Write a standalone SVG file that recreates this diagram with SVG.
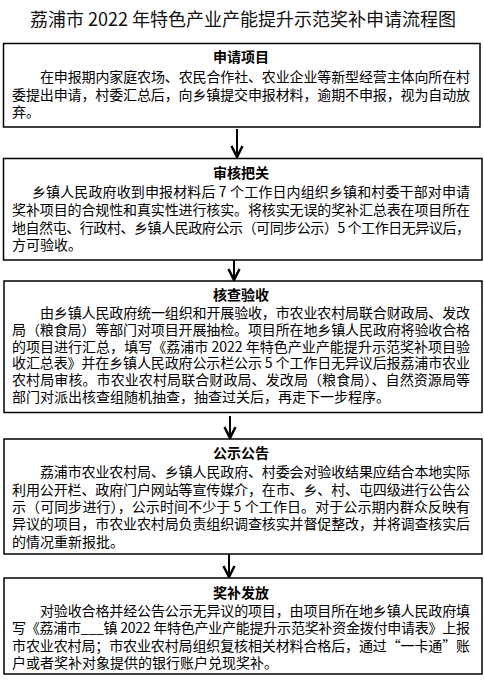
<svg xmlns="http://www.w3.org/2000/svg" width="484" height="681" viewBox="0 0 484 681">
<style>
.title{font-family:"Noto Sans CJK SC","Liberation Sans",sans-serif;font-size:18px;fill:#111;}
.box{fill:#fff;stroke:#000;stroke-width:1.5;}
.hd{font-family:"Noto Sans CJK SC","Liberation Sans",sans-serif;font-size:14px;font-weight:bold;text-anchor:middle;fill:#000;}
.tx{font-family:"Noto Sans CJK SC","Liberation Sans",sans-serif;font-size:14px;fill:#000;}
.conn{stroke:#000;stroke-width:2;fill:none;}
</style>
<defs>
<marker id="ah" markerUnits="userSpaceOnUse" markerWidth="14" markerHeight="14" refX="12" refY="7" orient="auto">
<path d="M1,1.5 L12,7 L1,12.5" fill="none" stroke="#000" stroke-width="2.5"/>
</marker>
</defs>
<rect width="484" height="681" fill="#fff"/>
<text class="title" x="243" y="26" text-anchor="middle">荔浦市 2022 年特色产业产能提升示范奖补申请流程图</text>

<g id="conns">
<line class="conn" x1="237" y1="129" x2="237" y2="157" marker-end="url(#ah)"/>
<line class="conn" x1="234" y1="252" x2="234" y2="280" marker-end="url(#ah)"/>
<line class="conn" x1="230" y1="416" x2="230" y2="438" marker-end="url(#ah)"/>
<line class="conn" x1="229" y1="553" x2="229" y2="577" marker-end="url(#ah)"/>
</g>

<g id="n1">
<rect class="box" x="3.5" y="43.5" width="476.5" height="83.5"/>
<text class="hd" x="241" y="62">申请项目</text>
<text class="tx" x="40" y="82" textLength="430" lengthAdjust="spacing">在申报期内家庭农场、农民合作社、农业企业等新型经营主体向所在村</text>
<text class="tx" x="12" y="100" textLength="458" lengthAdjust="spacing">委提出申请，村委汇总后，向乡镇提交申报材料，逾期不申报，视为自动放</text>
<text class="tx" x="12" y="117">弃。</text>
</g>

<g id="n2">
<rect class="box" x="3.5" y="158.5" width="478.5" height="101.5"/>
<text class="hd" x="241" y="178">审核把关</text>
<text class="tx" x="32" y="197" textLength="438" lengthAdjust="spacing">乡镇人民政府收到申报材料后 7 个工作日内组织乡镇和村委干部对申请</text>
<text class="tx" x="12" y="215" textLength="458" lengthAdjust="spacing">奖补项目的合规性和真实性进行核实。将核实无误的奖补汇总表在项目所在</text>
<text class="tx" x="12" y="233" textLength="458" lengthAdjust="spacing">地自然屯、行政村、乡镇人民政府公示（可同步公示）5 个工作日无异议后，</text>
<text class="tx" x="12" y="250">方可验收。</text>
</g>

<g id="n3">
<rect class="box" x="4" y="281" width="478" height="131.5"/>
<text class="hd" x="241" y="300">核查验收</text>
<text class="tx" x="40" y="318" textLength="430" lengthAdjust="spacing">由乡镇人民政府统一组织和开展验收，市农业农村局联合财政局、发改</text>
<text class="tx" x="12" y="335" textLength="458" lengthAdjust="spacing">局（粮食局）等部门对项目开展抽检。项目所在地乡镇人民政府将验收合格</text>
<text class="tx" x="12" y="352" textLength="458" lengthAdjust="spacing">的项目进行汇总，填写《荔浦市 2022 年特色产业产能提升示范奖补项目验</text>
<text class="tx" x="12" y="368" textLength="458" lengthAdjust="spacing">收汇总表》并在乡镇人民政府公示栏公示 5 个工作日无异议后报荔浦市农业</text>
<text class="tx" x="12" y="385" textLength="458" lengthAdjust="spacing">农村局审核。市农业农村局联合财政局、发改局（粮食局）、自然资源局等</text>
<text class="tx" x="12" y="402">部门对派出核查组随机抽查，抽查过关后，再走下一步程序。</text>
</g>

<g id="n4">
<rect class="box" x="4" y="439" width="478" height="115"/>
<text class="hd" x="241" y="458">公示公告</text>
<text class="tx" x="40" y="477" textLength="430" lengthAdjust="spacing">荔浦市农业农村局、乡镇人民政府、村委会对验收结果应结合本地实际</text>
<text class="tx" x="12" y="495" textLength="458" lengthAdjust="spacing">利用公开栏、政府门户网站等宣传媒介，在市、乡、村、屯四级进行公告公</text>
<text class="tx" x="12" y="512" textLength="458" lengthAdjust="spacing">示（可同步进行），公示时间不少于 5 个工作日。对于公示期内群众反映有</text>
<text class="tx" x="12" y="529" textLength="458" lengthAdjust="spacing">异议的项目，市农业农村局负责组织调查核实并督促整改，并将调查核实后</text>
<text class="tx" x="12" y="547">的情况重新报批。</text>
</g>

<g id="n5">
<rect class="box" x="4" y="578" width="478" height="96"/>
<text class="hd" x="241" y="598">奖补发放</text>
<text class="tx" x="40" y="616" textLength="430" lengthAdjust="spacing">对验收合格并经公告公示无异议的项目，由项目所在地乡镇人民政府填</text>
<text class="tx" x="12" y="633" textLength="458" lengthAdjust="spacing">写《荔浦市___镇 2022 年特色产业产能提升示范奖补资金拨付申请表》上报</text>
<text class="tx" x="12" y="651" textLength="458" lengthAdjust="spacing">市农业农村局；市农业农村局组织复核相关材料合格后，通过“一卡通”账</text>
<text class="tx" x="12" y="668">户或者奖补对象提供的银行账户兑现奖补。</text>
</g>
</svg>
